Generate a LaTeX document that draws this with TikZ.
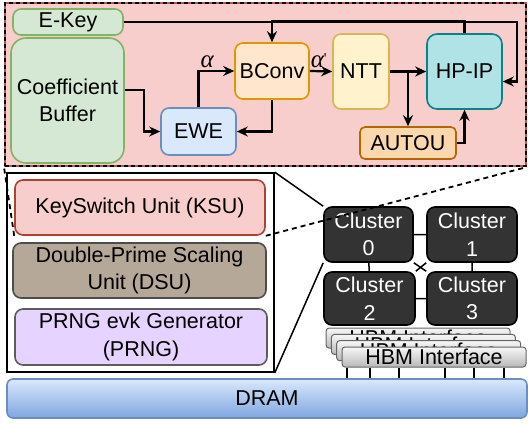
\documentclass[tikz,border=0pt]{standalone}
\usepackage{fontspec}
\setmainfont{Liberation Sans}
\newfontfamily\greekface{Liberation Serif}
\usetikzlibrary{arrows.meta,calc}

\definecolor{keyfill}{HTML}{D5E8D4}\definecolor{keyline}{HTML}{82B366}
\definecolor{ewefill}{HTML}{DAE8FC}\definecolor{eweline}{HTML}{6C8EBF}
\definecolor{bcfill}{HTML}{FFE6CC}\definecolor{bcline}{HTML}{D79B00}
\definecolor{nttfill}{HTML}{FFF2CC}\definecolor{nttline}{HTML}{D6B656}
\definecolor{hpfill}{HTML}{B0E3E6}\definecolor{hpline}{HTML}{0E8088}
\definecolor{autfill}{HTML}{FAD7AC}\definecolor{autline}{HTML}{B46504}
\definecolor{ksufill}{HTML}{F8CECC}\definecolor{ksuline}{HTML}{B85450}
\definecolor{ksubox}{HTML}{AE4132}
\definecolor{dsufill}{HTML}{B5A898}\definecolor{dsuline}{HTML}{4D4D4D}
\definecolor{prngfill}{HTML}{E6D3FF}\definecolor{prngline}{HTML}{5C5C5C}
\definecolor{clfill}{HTML}{333333}
\definecolor{hbmtop}{HTML}{F7F7F7}\definecolor{hbmlow}{HTML}{B8B8B8}
\definecolor{dramlow}{HTML}{7EA6E0}

\begin{document}
\begin{tikzpicture}[x=1pt, y=-1pt, >={Stealth[length=11pt,width=10pt]},
  txt/.style={font=\fontsize{21.5}{27.5}\selectfont},
  unit/.style={txt, rounded corners=8pt, line width=1.6pt, inner sep=0pt, align=center},
  conn/.style={->, line width=2.2pt},
  greek/.style={above, inner sep=2pt, font=\fontsize{25}{28}\selectfont\greekface\itshape},
  cluster/.style={unit, fill=clfill, draw=black, text=white},
  hbm/.style={unit, rounded corners=3pt, line width=1pt, draw=black!60,
    top color=hbmtop, bottom color=hbmlow, minimum width=184, minimum height=20}]
\useasboundingbox (0,0) rectangle (528,424);

% KeySwitch unit in detail
\node[fill=ksufill, draw=ksuline, line width=2pt, minimum width=521, minimum height=163,
  postaction={draw=black, line width=2pt, dash pattern=on 4pt off 3pt}] (detail) at (265.5,84.5) {};

\node[unit, fill=keyfill, draw=keyline, minimum width=110, minimum height=26] (ekey) at (68,22) {E-Key};
\node[unit, rounded corners=15pt, fill=keyfill, draw=keyline, minimum width=113, minimum height=125] (coef) at (67.5,100.5) {Coefficient\\Buffer};
\node[unit, fill=ewefill, draw=eweline, minimum width=75, minimum height=47] (ewe) at (198.5,131.5) {EWE};
\node[unit, fill=bcfill, draw=bcline, minimum width=74, minimum height=56] (bconv) at (272,71) {BConv};
\node[unit, fill=nttfill, draw=nttline, minimum width=56, minimum height=75] (ntt) at (361,71.5) {NTT};
\node[unit, rounded corners=10pt, fill=hpfill, draw=hpline, minimum width=75, minimum height=75] (hpip) at (464.5,71.5) {HP-IP};
\node[unit, rounded corners=5pt, fill=autfill, draw=autline, minimum width=96, minimum height=32] (autou) at (408,143) {AUTOU};

\draw[conn] ([yshift=10.5pt]coef.east) -- ++(19,0) |- (ewe.west);
\draw[conn] (ewe.north) |- (bconv.west) node[pos=.62, greek]{α};
\draw[conn] (bconv.south) |- (ewe.east);
\draw[conn] (bconv.east) -- (ntt.west) node[pos=.4, greek]{α\raisebox{4pt}{\upshape\fontsize{15}{15}\selectfont\textquotesingle}};
\draw[conn] (ntt.east) -- (hpip.west);
\draw[conn] (autou.north |- ntt.east) -- (autou.north);
\draw[conn] (autou.east) -| (hpip.south);
\draw[conn] (hpip.north) -- ++(0,-12) -| (bconv.north);
\coordinate (keyturn) at (517,22);
\draw[conn] (ekey.east) -- (keyturn) |- ([yshift=-10pt]hpip.east);

% units of one cluster
\node[draw, line width=1.6pt, minimum width=267, minimum height=199] (units) at (140.5,272.5) {};
\node[unit, fill=ksufill, draw=ksubox, minimum width=250, minimum height=55] (ksu) at (140,207.5) {KeySwitch Unit (KSU)};
\node[unit, fill=dsufill, draw=dsuline, minimum width=253, minimum height=55] (dsu) at (139.5,270.5) {Double-Prime Scaling\\Unit (DSU)};
\node[unit, fill=prngfill, draw=prngline, minimum width=252, minimum height=56] (prng) at (141,337) {PRNG evk Generator\\(PRNG)};

% clusters
\node[cluster, minimum width=89, minimum height=55] (c0) at (368.5,234.5) {Cluster\\0};
\node[cluster, minimum width=90, minimum height=55] (c1) at (472,234.5) {Cluster\\1};
\node[cluster, minimum width=91, minimum height=53] (c2) at (369.5,298.5) {Cluster\\2};
\node[cluster, minimum width=90, minimum height=53] (c3) at (472,298.5) {Cluster\\3};
\draw[line width=1.5pt] (c0) -- (c1) (c2) -- (c3) (c0) -- (c2) (c1) -- (c3)
  (c0.south east) -- (c3.north west) (c1.south west) -- (c2.north east);

% zoom lines
\draw[line width=1.5pt] (units.north east) -- (c0.north west);
\draw[line width=1.5pt] (units.south east) -- (c0.south west);
\draw[line width=1.8pt, dash pattern=on 5pt off 4pt] (ksu.south west) -- (detail.south west);
\draw[line width=1.8pt, dash pattern=on 5pt off 4pt] (ksu.south east) -- (detail.south east);

% memory
\foreach \k in {3,2,1,0}
  \node[hbm] (hbm\k) at ({434-5.3*\k},{357-6.3*\k}) {HBM Interface};
\node[unit, rounded corners=6pt, top color=ewefill, bottom color=dramlow, draw=eweline,
  minimum width=520, minimum height=39] (dram) at (267,398.5) {DRAM};
\foreach \x in {347,370,399,445,474,504}
{
  \coordinate (bus) at (\x,0);
  \draw[line width=1.2pt] (bus |- hbm0.south) -- (bus |- dram.north);
}
\end{tikzpicture}
\end{document}
